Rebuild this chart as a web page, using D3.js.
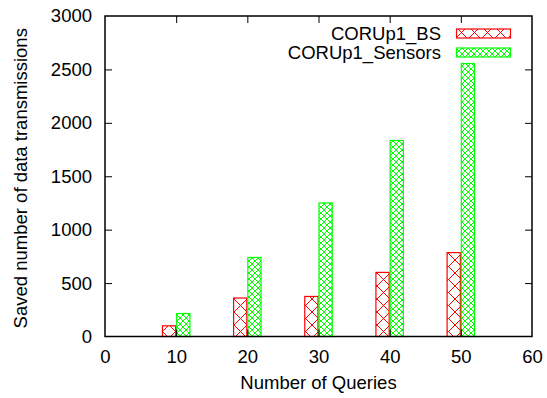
<!DOCTYPE html>
<html>
<head>
<meta charset="utf-8">
<script src="https://cdn.jsdelivr.net/npm/d3@7/dist/d3.min.js"></script>
<style>
  html, body { margin: 0; padding: 0; background: #fff; }
  svg { display: block; font-family: "Liberation Sans", Arial, Helvetica, sans-serif; }
</style>
</head>
<body>
<svg id="chart" width="547" height="398"></svg>
<script>
// Number of queries (x positions of the bar groups)
const queries = [10, 20, 30, 40, 50];
// Saved number of data transmissions per series
const seriesNames = ["CORUp1_BS", "CORUp1_Sensors"];
const bsValues = [100, 360, 375, 600, 785];
const sensorValues = [215, 740, 1250, 1835, 2555];
// Axis ticks
const xTicks = [0, 10, 20, 30, 40, 50, 60];
const yTicks = [0, 500, 1000, 1500, 2000, 2500, 3000];

const svg = d3.select("#chart");
const plotLeft = 105, plotRight = 532, plotTop = 16, plotBottom = 336.5;

const x = d3.scaleLinear().domain([0, 60]).range([plotLeft, plotRight]);
const y = d3.scaleLinear().domain([0, 3000]).range([plotBottom, plotTop]);

// Hatch patterns: coarse red cross-hatch, fine green cross-hatch
const defs = svg.append("defs");
function hatch(id, color, size, sw) {
  const p = defs.append("pattern")
    .attr("id", id)
    .attr("patternUnits", "userSpaceOnUse")
    .attr("width", size).attr("height", size);
  p.append("path")
    .attr("d", `M0,0L${size},${size}M${size},0L0,${size}M${-size/2},${size/2}L${size/2},${-size/2}M${size/2},${size*1.5}L${size*1.5},${size/2}M${-size/2},${size/2}L${size/2},${size*1.5}M${size/2},${-size/2}L${size*1.5},${size/2}`)
    .attr("stroke", color).attr("stroke-width", sw).attr("fill", "none");
}
hatch("hatchRed", "#ff0000", 13, 1);
hatch("hatchGreen", "#00ff00", 6, 1);

const series = [
  { name: seriesNames[0], values: bsValues, color: "#ff0000", fill: "url(#hatchRed)", offset: -2 },
  { name: seriesNames[1], values: sensorValues, color: "#00ff00", fill: "url(#hatchGreen)", offset: 0 }
];

// Bars: each box spans two query units, BS left of the tick, Sensors right of it
series.forEach(s => {
  svg.append("g").selectAll("rect")
    .data(queries.map((q, i) => ({ q, v: s.values[i] })))
    .join("rect")
    .attr("x", d => x(d.q + s.offset) + 0.5)
    .attr("width", d => x(d.q + s.offset + 2) - x(d.q + s.offset) - 1)
    .attr("y", d => y(d.v))
    .attr("height", d => y(0) - y(d.v))
    .attr("fill", s.fill)
    .attr("stroke", s.color)
    .attr("stroke-width", 1.2);
});

// Axes with inward ticks on all four sides
const fontSize = "18.5px";
const fmt = d3.format("d");
const gx = svg.append("g").attr("transform", `translate(0,${plotBottom})`)
  .call(d3.axisBottom(x).tickValues(xTicks).tickFormat(fmt).tickSizeInner(-7).tickSizeOuter(0));
const gxTop = svg.append("g").attr("transform", `translate(0,${plotTop})`)
  .call(d3.axisTop(x).tickValues(xTicks).tickSizeInner(-7).tickSizeOuter(0).tickFormat(""));
const gy = svg.append("g").attr("transform", `translate(${plotLeft},0)`)
  .call(d3.axisLeft(y).tickValues(yTicks).tickFormat(fmt).tickSizeInner(-7).tickSizeOuter(0).tickPadding(13));
const gyRight = svg.append("g").attr("transform", `translate(${plotRight},0)`)
  .call(d3.axisRight(y).tickValues(yTicks).tickSizeInner(-7).tickSizeOuter(0).tickFormat(""));

[gx, gxTop, gy, gyRight].forEach(g => {
  g.select(".domain").remove();
  g.selectAll(".tick line").attr("stroke", "#000").attr("stroke-width", 1);
  g.selectAll(".tick text").attr("fill", "#000").style("font-size", fontSize)
    .style("font-family", "'Liberation Sans', Arial, sans-serif");
});
// Hide the edge ticks that coincide with the frame
gx.selectAll(".tick").filter(d => d === 0 || d === 60).select("line").remove();
gxTop.selectAll(".tick").filter(d => d === 0 || d === 60).select("line").remove();
gy.selectAll(".tick").filter(d => d === 0 || d === 3000).select("line").remove();
gyRight.selectAll(".tick").filter(d => d === 0 || d === 3000).select("line").remove();
gx.selectAll(".tick text").attr("dy", "0.71em").attr("y", 13);

// Plot frame
svg.append("rect")
  .attr("x", plotLeft).attr("y", plotTop)
  .attr("width", plotRight - plotLeft).attr("height", plotBottom - plotTop)
  .attr("fill", "none").attr("stroke", "#000").attr("stroke-width", 1.5);

// Axis titles
svg.append("text")
  .attr("x", (plotLeft + plotRight) / 2).attr("y", 389)
  .attr("text-anchor", "middle")
  .style("font-size", fontSize)
  .text("Number of Queries");
svg.append("text")
  .attr("transform", `translate(27,${(plotTop + plotBottom) / 2 + 2}) rotate(-90)`)
  .attr("text-anchor", "middle")
  .style("font-size", fontSize)
  .text("Saved number of data transmissions");

// Legend
const legend = svg.append("g");
series.forEach((s, i) => {
  const cy = 33.5 + i * 19;
  legend.append("text")
    .attr("x", 441).attr("y", cy).attr("dy", "0.36em")
    .attr("text-anchor", "end")
    .style("font-size", fontSize)
    .text(s.name);
  legend.append("rect")
    .attr("x", 456.5).attr("y", cy - 4.5)
    .attr("width", 54).attr("height", 9)
    .attr("fill", s.fill).attr("stroke", s.color).attr("stroke-width", 1.2);
});
</script>
</body>
</html>
